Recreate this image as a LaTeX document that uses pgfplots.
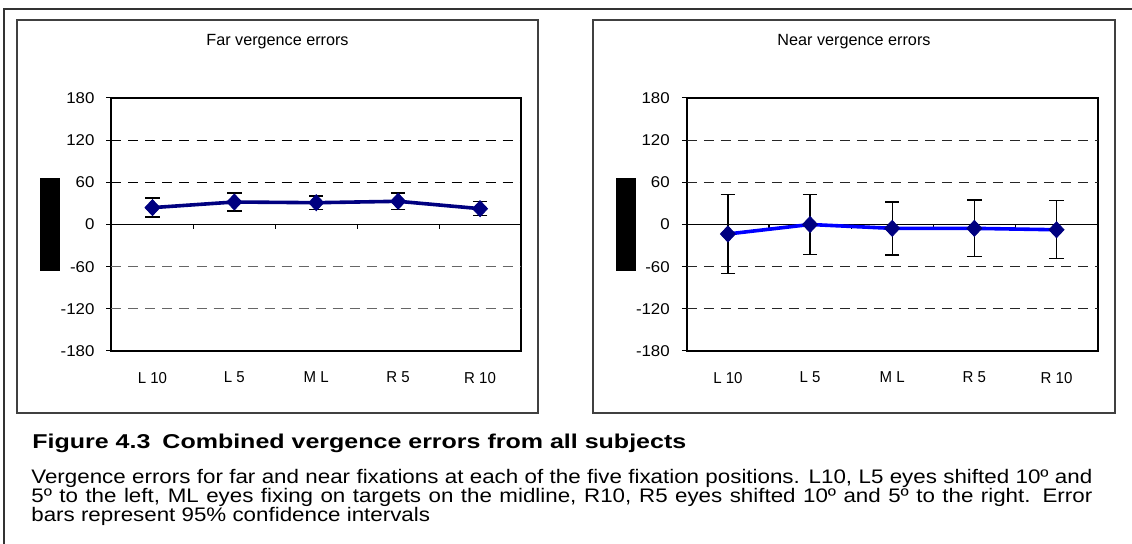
\documentclass[border=0pt]{standalone}
\usepackage{fontspec}
\usepackage{pgfplots}
\usepackage{pgfplotstable}
\pgfplotsset{compat=1.18}
\setmainfont{Liberation Sans}
\newfontfamily\bodyfont[FakeStretch=1.14]{Liberation Sans}
\newfontfamily\titlefont[FakeStretch=1.25]{Liberation Sans}
\newfontfamily\yfont[FakeStretch=1.08]{Liberation Sans}
\newfontfamily\xfont[FakeStretch=0.95]{Liberation Sans}
\definecolor{navy}{RGB}{0,0,128}
\definecolor{pureblue}{RGB}{0,0,255}

\pgfplotstableread{
x y err
0 24 13.5
1 32 13
2 31 9.5
3 33 12
4 22.5 10
}\fardata

\pgfplotstableread{
x y err
0 -13.5 56.5
1 0 43
2 -5.5 37.7
3 -5.5 40.2
4 -7.5 41.3
}\neardata

\tikzset{grd/.style={line width=0.5pt, dash pattern=on 5pt off 3.5pt}}
\pgfplotsset{
  panel/.style={
    scale only axis, height=126.5pt, anchor=north west,
    xmin=-0.5, xmax=4.5, ymin=-180, ymax=180,
    ytick={-180,-120,-60,0,60,120,180},
    yticklabels={-180,-120,-60,0,60,120,180},
    xtick={0,1,2,3,4},
    xticklabels={L 10, L 5, M L, R 5, R 10},
    axis line style={line width=1pt},
    tick align=outside, ytick pos=left, xtick pos=bottom,
    major tick length=2.5pt,
    xtick style={draw=none},
    ytick style={black, line width=0.5pt},
    yticklabel style={font=\yfont\fontsize{7.8}{9}\selectfont, text=black, xshift=-2.5pt},
    xticklabel style={font=\xfont\fontsize{7.9}{9}\selectfont, text=black, yshift=-4.5pt},
    clip=false,
  },
  errstyle/.style={
    error bars/.cd, y dir=both, y explicit,
    error bar style={black, line width=0.7pt},
    error mark=-,
    error mark options={black, line width=0.7pt, mark size=3.6pt, rotate=90},
  },
}

\begin{document}
\begin{tikzpicture}
\useasboundingbox (0,0) rectangle (566pt,-272pt);
\fill[white] (0,0) rectangle (566pt,-272pt);
% outer frame
\draw[line width=1.1pt, black!80] (2pt,-280pt) -- (2pt,-4.5pt) -- (575pt,-4.5pt);
% panel frames
\draw[line width=0.75pt, black!75] (8.5pt,-10pt) rectangle (269pt,-206.5pt);
\draw[line width=0.75pt, black!75] (296.5pt,-10pt) rectangle (557.5pt,-206.5pt);
% redacted axis titles
\fill[black] (20pt,-89pt) rectangle (30pt,-135.5pt);
\fill[black] (308pt,-89pt) rectangle (318pt,-135.5pt);
% chart titles
\node[font=\fontsize{8.1}{10}\selectfont] at (138.75pt,-20.8pt) {Far vergence errors};
\node[font=\fontsize{8.1}{10}\selectfont] at (427pt,-20.8pt) {Near vergence errors};

\begin{axis}[panel, width=204.75pt, at={(55.75pt,-49pt)}]
  \draw[grd, black] (axis cs:-0.5,120) -- (axis cs:4.5,120);
  \draw[grd, black] (axis cs:-0.5,60) -- (axis cs:4.5,60);
  \draw[grd, black!60] (axis cs:-0.5,-60) -- (axis cs:4.5,-60);
  \draw[grd, black!60] (axis cs:-0.5,-120) -- (axis cs:4.5,-120);
  \draw[black, line width=0.5pt] (axis cs:-0.5,0) -- (axis cs:4.5,0);
  \pgfplotsinvokeforeach{0.5,1.5,2.5,3.5}{\draw[black, line width=0.6pt] (axis cs:#1,0) -- ([yshift=-2.5pt]axis cs:#1,0);}
  \addplot[navy, line width=1.8pt, mark=diamond*, mark size=4pt,
    mark options={fill=navy, draw=navy, xscale=1.25, line width=0.4pt},
    errstyle]
    table[x=x, y=y, y error=err]{\fardata};
\end{axis}

\begin{axis}[panel, width=205.4pt, at={(343.4pt,-49pt)}]
  \draw[grd, black!85] (axis cs:-0.5,120) -- (axis cs:4.5,120);
  \draw[grd, black!85] (axis cs:-0.5,60) -- (axis cs:4.5,60);
  \draw[grd, black!85] (axis cs:-0.5,-60) -- (axis cs:4.5,-60);
  \draw[grd, black!85] (axis cs:-0.5,-120) -- (axis cs:4.5,-120);
  \draw[black, line width=0.5pt] (axis cs:-0.5,0) -- (axis cs:4.5,0);
  \pgfplotsinvokeforeach{0.5,1.5,2.5,3.5}{\draw[black, line width=0.6pt] (axis cs:#1,0) -- ([yshift=-2.5pt]axis cs:#1,0);}
  \addplot[pureblue, line width=1.8pt, mark=diamond*, mark size=4pt,
    mark options={fill=navy, draw=navy, xscale=1.25, line width=0.4pt},
    errstyle]
    table[x=x, y=y, y error=err]{\neardata};
\end{axis}

% caption
\node[anchor=base west, inner sep=0] at (16pt,-224.15pt)
  {\titlefont\bfseries\fontsize{10}{12}\selectfont Figure 4.3\hspace{0.6em}Combined vergence errors from all subjects};
\node[anchor=base west, inner sep=0] at (15.5pt,-241.65pt)
  {\makebox[530.5pt][s]{\bodyfont\fontsize{9.8}{9.8}\selectfont Vergence errors for far and near fixations at each of the five fixation positions. L10, L5 eyes shifted 10º and}};
\node[anchor=base west, inner sep=0] at (15.5pt,-251.35pt)
  {\makebox[530.5pt][s]{\bodyfont\fontsize{9.8}{9.8}\selectfont 5º to the left, ML eyes fixing on targets on the midline, R10, R5 eyes shifted 10º and 5º to the right. Error}};
\node[anchor=base west, inner sep=0] at (15.5pt,-261pt)
  {\bodyfont\fontsize{9.8}{9.8}\selectfont bars represent 95\% confidence intervals};
\end{tikzpicture}
\end{document}
